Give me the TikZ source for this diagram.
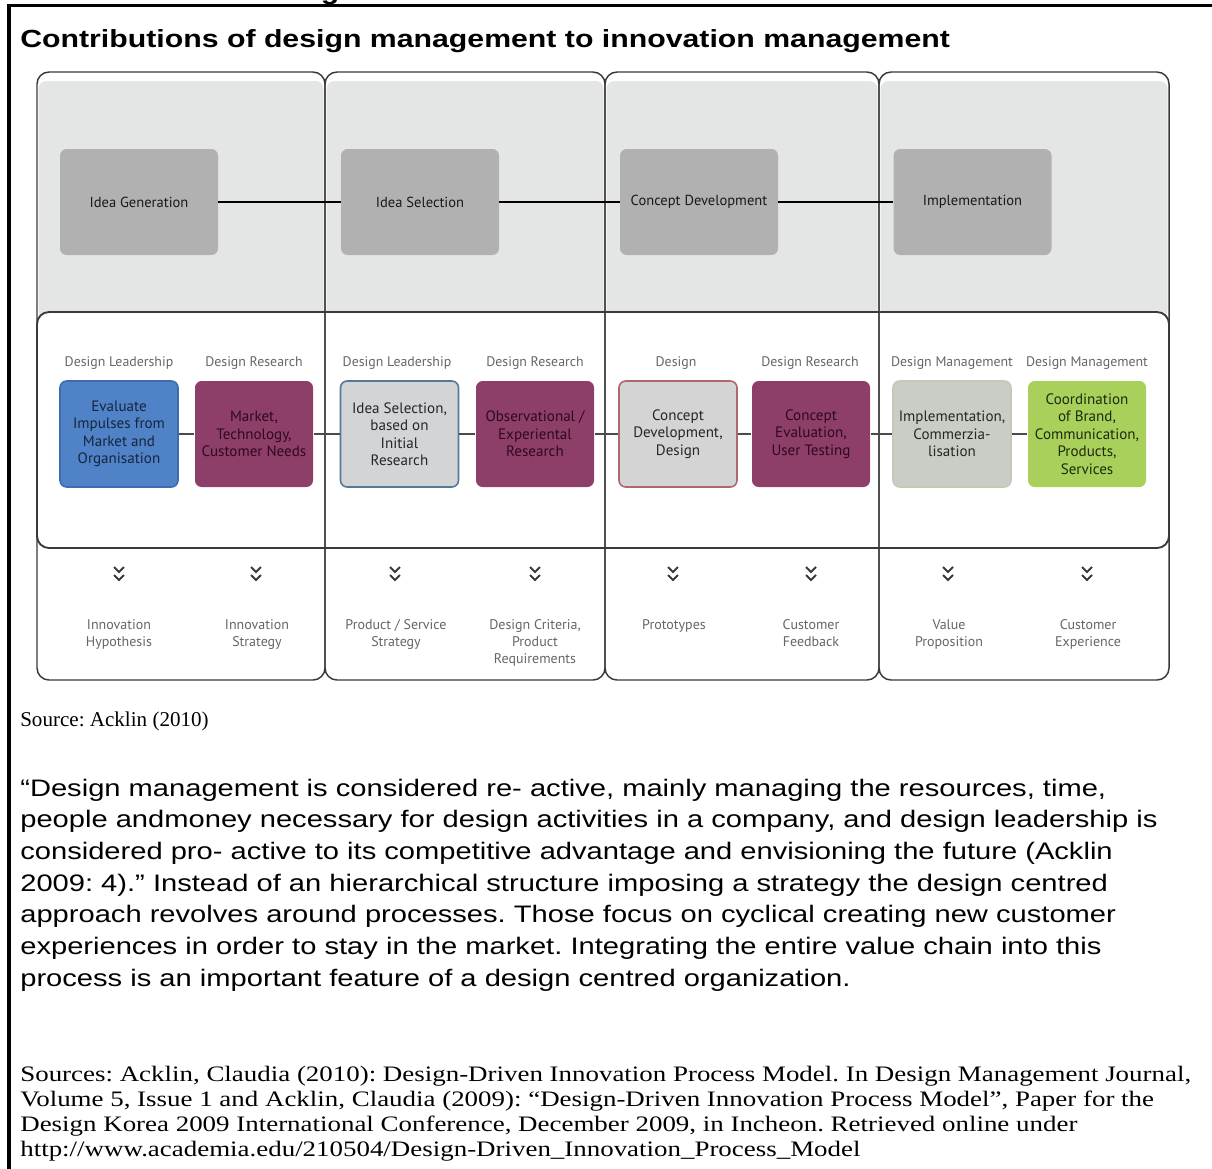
\documentclass[tikz,border=0pt]{standalone}
\usepackage{fontspec}
\setmainfont{Liberation Serif}
\newfontfamily\headfont{Liberation Sans}
\newfontfamily\chartfont{PT Sans}
\frenchspacing

\definecolor{bandgray}{HTML}{E4E5E5}
\definecolor{phasegray}{HTML}{B1B1B1}
\definecolor{framegray}{HTML}{3A3A3A}
\definecolor{rolegray}{HTML}{666666}
\definecolor{leadblue}{HTML}{4F82C6}
\definecolor{leadblueline}{HTML}{3D6CB0}
\definecolor{leadbluetext}{HTML}{17253F}
\definecolor{research}{HTML}{8D3E69}
\definecolor{researchtext}{HTML}{2E0A1E}
\definecolor{selfill}{HTML}{D2D4D5}
\definecolor{selline}{HTML}{56789A}
\definecolor{desfill}{HTML}{D4D4D4}
\definecolor{desline}{HTML}{B0676D}
\definecolor{implfill}{HTML}{CACDC6}
\definecolor{implline}{HTML}{C2CBB4}
\definecolor{brandgreen}{HTML}{A8D05A}
\definecolor{brandtext}{HTML}{1F2A10}
\definecolor{linkgray}{HTML}{4A4A4A}

\begin{document}
\begin{tikzpicture}[x=0.75pt, y=-0.75pt,
  every node/.append style={transform shape},
  colframe/.style={draw=framegray, line width=1.1pt, rounded corners=9pt},
  midband/.style={draw=framegray, line width=1.4pt, fill=white, rounded corners=9pt},
  phase/.style={fill=phasegray, rounded corners=5pt, minimum width=118.5pt,
    minimum height=79.5pt, inner sep=0pt, text=black!90,
    font=\chartfont\fontsize{10.9}{12}\selectfont},
  act/.style={rounded corners=5pt, minimum width=88.5pt, minimum height=79.5pt,
    inner sep=0pt, align=center, line width=1.2pt,
    font=\chartfont\fontsize{11.3}{13.1}\selectfont},
  lead/.style={act, fill=leadblue, draw=leadblueline, text=leadbluetext},
  resbox/.style={act, fill=research, text=researchtext},
  selbox/.style={act, fill=selfill, draw=selline, text=black!85},
  desbox/.style={act, fill=desfill, draw=desline, text=black!85},
  implbox/.style={act, fill=implfill, draw=implline, text=black!85},
  brandbox/.style={act, fill=brandgreen, text=brandtext},
  role/.style={anchor=base, inner sep=0pt, text=rolegray,
    font=\chartfont\fontsize{10.4}{12}\selectfont},
  outcome/.style={anchor=north, inner sep=0pt, align=center, text=rolegray,
    font=\chartfont\fontsize{10.5}{12.75}\selectfont},
  phaselink/.style={draw=black, line width=1.5pt},
  actlink/.style={draw=linkgray, line width=1.9pt},
  chevron/.style={draw=framegray, line width=1.4pt},
  headline/.style={anchor=base west, inner sep=0pt,
    font=\headfont\bfseries\fontsize{18.6}{20}\selectfont},
  para/.style={anchor=base west, inner sep=0pt,
    font=\headfont\fontsize{17.9}{20}\selectfont},
  srcline/.style={anchor=base west, inner sep=0pt,
    font=\fontsize{16.55}{18}\selectfont}
]
\useasboundingbox (0,0) rectangle (1212,1168);
\fill[white] (0,0) rectangle (1212,1168);

% page frame: left rule and top rule
\draw[line width=2.4pt] (9,1170) -- (9,5.5) -- (1214,5.5);

% ---------------- process model ----------------
% grey band behind the phase row
\foreach \xl/\xr in {37/325, 325/605, 605/879, 879/1169} {
  \fill[bandgray, rounded corners=6pt] (\xl+1.5,81) rectangle (\xr-1.5,318);
}
% white band of the activity row
\draw[midband] (37,312) rectangle (1169,548);
% the four phase columns
\foreach \xl/\xr in {37/325, 325/605, 605/879, 879/1169} {
  \draw[colframe] (\xl,72) rectangle (\xr,680);
}

% phases
\node[phase] (ig) at (139,202) {Idea Generation};
\node[phase] (is) at (420,202) {Idea Selection};
\node[phase] (cd) at (699,202) {Concept Development};
\node[phase] (im) at (972.5,202) {Implementation};
\draw[phaselink] (ig) -- (is);
\draw[phaselink] (is) -- (cd);
\draw[phaselink] (cd) -- (im);

% roles
\node[role] (r1) at (119,366) {Design Leadership};
\node[role] (r2) at (254,366) {Design Research};
\node[role] (r3) at (397,366) {Design Leadership};
\node[role] (r4) at (535,366) {Design Research};
\node[role] (r5) at (676,366) {Design};
\node[role] (r6) at (810,366) {Design Research};
\node[role] (r7) at (952,366) {Design Management};
\node[role] (r8) at (1087,366) {Design Management};

% activities
\node[lead] (a1) at (119,434) {Evaluate\\Impulses from\\Market and\\Organisation};
\node[resbox] (a2) at (254,434) {Market,\\Technology,\\Customer Needs};
\node[selbox] (a3) at (399.5,434) {Idea Selection,\\based on\\Initial\\Research};
\node[resbox] (a4) at (535,434) {Observational /\\Experiental\\Research};
\node[desbox] (a5) at (678,434) {Concept\\Development,\\Design};
\node[resbox] (a6) at (811,434) {Concept\\Evaluation,\\User Testing};
\node[implbox] (a7) at (952,434) {Implementation,\\Commerzia-\\lisation};
\node[brandbox] (a8) at (1087,434) {Coordination\\of Brand,\\Communication,\\Products,\\Services};
\foreach \p/\q in {a1/a2, a2/a3, a3/a4, a4/a5, a5/a6, a6/a7, a7/a8} {
  \draw[actlink] (\p) -- (\q);
}

% double chevrons
\foreach \cx in {119,256,395,535,673,811,948,1087} {
  \draw[chevron] (\cx-5,567) -- (\cx,572) -- (\cx+5,567);
  \draw[chevron] (\cx-5,575) -- (\cx,580) -- (\cx+5,575);
}

% outcomes
\node[outcome] (o1) at (119,619) {Innovation\\Hypothesis};
\node[outcome] (o2) at (257,619) {Innovation\\Strategy};
\node[outcome] (o3) at (396,619) {Product / Service\\Strategy};
\node[outcome] (o4) at (535,619) {Design Criteria,\\Product\\Requirements};
\node[outcome] (o5) at (674,619) {Prototypes};
\node[outcome] (o6) at (811,619) {Customer\\Feedback};
\node[outcome] (o7) at (949,619) {Value\\Proposition};
\node[outcome] (o8) at (1088,619) {Customer\\Experience};

% figure caption
\node[srcline, font=\fontsize{15.8}{18}\selectfont] (caption) at (20,726) {Source: Acklin (2010)};

% ---------------- page text (set slightly wide) ----------------
\begin{scope}[xscale=1.22, x=0.6148pt]
  % descender of the heading line above, cut by the page edge
  \begin{scope}
    \clip (300,0) rectangle (360,4.2);
    \node[headline, anchor=base] (cutg) at (330,-1) {g};
  \end{scope}

  \node[headline] (title) at (20,47)
    {Contributions of design management to innovation management};

  \node[para] (p1) at (20,796) {“Design management is considered re- active, mainly managing the resources, time,};
  \node[para] (p2) at (20,827.7) {people andmoney necessary for design activities in a company, and design leadership is};
  \node[para] (p3) at (20,859.4) {considered pro- active to its competitive advantage and envisioning the future (Acklin};
  \node[para] (p4) at (20,891.1) {2009: 4).” Instead of an hierarchical structure imposing a strategy the design centred};
  \node[para] (p5) at (20,922.8) {approach revolves around processes. Those focus on cyclical creating new customer};
  \node[para] (p6) at (20,954.5) {experiences in order to stay in the market. Integrating the entire value chain into this};
  \node[para] (p7) at (20,986.2) {process is an important feature of a design centred organization.};

  \node[srcline] (s1) at (20,1081) {Sources: Acklin, Claudia (2010): Design-Driven Innovation Process Model. In Design Management Journal,};
  \node[srcline] (s2) at (20,1106) {Volume 5, Issue 1 and Acklin, Claudia (2009): “Design-Driven Innovation Process Model”, Paper for the};
  \node[srcline] (s3) at (20,1131) {Design Korea 2009 International Conference, December 2009, in Incheon. Retrieved online under};
  \node[srcline] (s4) at (20,1156) {http://www.academia.edu/210504/Design-Driven\_Innovation\_Process\_Model};
\end{scope}
\end{tikzpicture}
\end{document}
